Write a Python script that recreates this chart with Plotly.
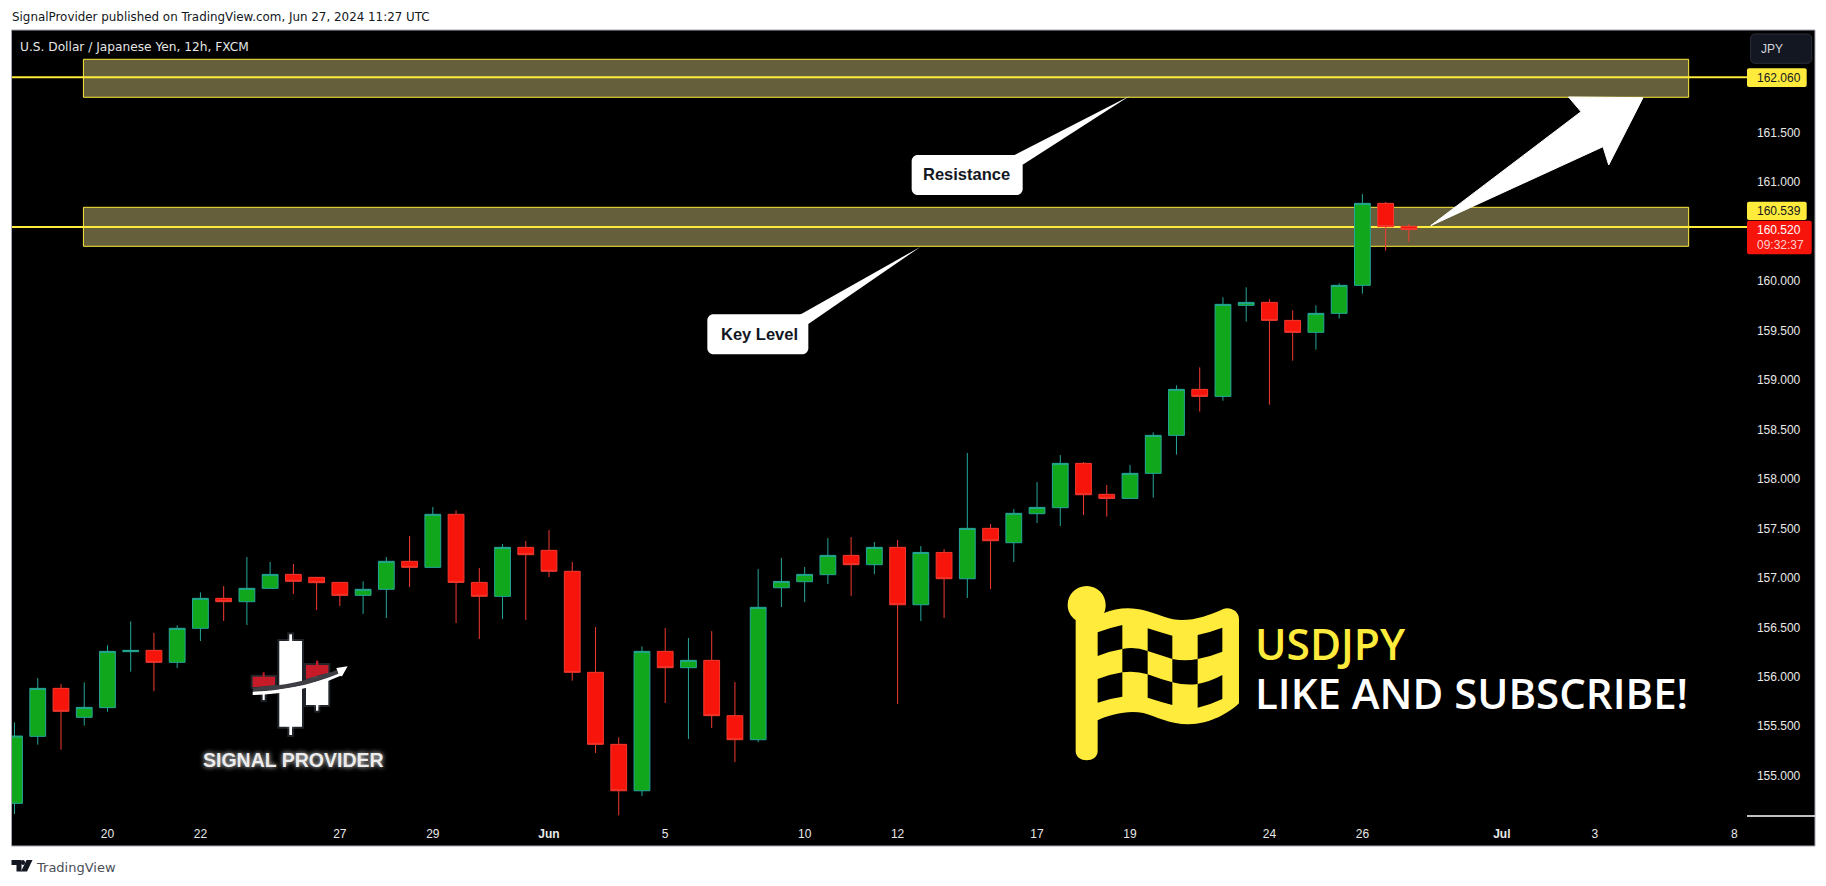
import re
import plotly.graph_objects as go

# ---------- data ----------
bar_index = list(range(61))
opens = [154.721,155.398,155.883,155.590,155.688,156.254,156.267,156.146,156.490,156.793,
         156.759,156.894,157.035,157.005,156.954,156.823,156.884,157.167,157.106,157.642,
         156.954,156.813,157.308,157.278,157.066,156.045,155.317,154.848,156.257,156.092,
         156.166,155.607,155.364,156.900,156.961,157.032,157.227,157.133,157.308,156.728,
         157.257,156.991,157.500,157.355,157.648,157.709,158.157,157.844,157.803,158.056,
         158.440,158.905,158.834,159.754,159.784,159.602,159.481,159.673,159.956,160.785,160.553]
highs = [155.539,155.987,155.927,155.944,156.318,156.560,156.442,156.520,156.853,156.917,
         157.210,157.160,157.140,157.005,156.954,156.965,157.210,157.423,157.716,157.682,
         157.099,157.342,157.372,157.483,157.160,156.503,155.388,156.307,156.493,156.392,
         156.462,155.947,157.089,157.200,157.109,157.402,157.412,157.362,157.382,157.321,
         157.291,158.262,157.544,157.695,157.968,158.241,158.171,157.938,158.140,158.471,
         158.946,159.127,159.835,159.936,159.815,159.703,159.754,159.977,160.879,160.799,160.576]
lows = [154.613,155.314,155.263,155.506,155.647,156.052,155.856,156.089,156.361,156.564,
        156.523,156.890,156.836,156.675,156.715,156.634,156.594,156.907,157.106,156.543,
        156.382,156.584,156.574,157.008,155.961,155.229,154.600,154.795,155.735,155.371,
        155.482,155.138,155.340,156.705,156.755,156.937,156.816,157.038,155.724,156.563,
        156.594,156.796,156.887,157.160,157.554,157.524,157.635,157.618,157.803,157.810,
        158.245,158.680,158.790,159.589,158.750,159.195,159.306,159.620,159.872,160.307,160.398]
closes = [155.401,155.883,155.651,155.691,156.257,156.267,156.146,156.490,156.793,156.759,
          156.894,157.035,156.965,156.951,156.823,156.884,157.167,157.106,157.642,156.954,
          156.813,157.308,157.234,157.066,156.045,155.317,154.848,156.257,156.092,156.166,
          155.607,155.364,156.702,156.964,157.035,157.227,157.133,157.308,156.728,157.257,
          156.991,157.500,157.375,157.652,157.712,158.157,157.840,157.803,158.056,158.440,
          158.905,158.834,159.764,159.784,159.602,159.481,159.673,159.956,160.785,160.549,160.520]

x_tick_pos = [4, 8, 14, 18, 23, 28, 34, 38, 44, 48, 54, 58, 64, 68, 74]
x_tick_text = ["20", "22", "27", "29", "<b>Jun</b>", "5", "10", "12", "17", "19", "24", "26", "<b>Jul</b>", "3", "8"]
y_ticks = [155.0, 155.5, 156.0, 156.5, 157.0, 157.5, 158.0, 158.5, 159.0, 159.5, 160.0, 160.5, 161.0, 161.5, 162.0]

level_prices = [162.060, 160.545]
zone_tops = [162.241, 160.745]
zone_bottoms = [161.857, 160.351]
zone_start, zone_end = 2.965, 72.04
x_range = [-0.108, 74.55]
y_range = [154.593, 162.537]

# ---------- geometry / palette ----------
W, H = 1826, 886
L, R, T, B = 12, 1747, 30, 816
YEL = "#ffeb3b"
FLAG = "#ffeb3b"
ZONE = "#655f3c"


def xp(px):
    return (px - L) / (R - L)


def yp(py):
    return (B - py) / (B - T)


def path(cmds, ox=0.0, oy=0.0, s=1.0):
    """SVG-like path given in pixel space (with optional crop offset/scale)."""
    out, is_x = [], True
    for tok in re.findall(r"[A-Za-z]|-?\d+\.?\d*", cmds):
        if tok.isalpha():
            out.append(tok)
            is_x = True
        else:
            v = float(tok)
            if is_x:
                out.append(f"{xp(ox + v * s):.5f}")
            else:
                out.append(f"{yp(oy + v * s):.5f}")
            is_x = not is_x
    return " ".join(out)


shapes = []


def add_path(cmds, fill, ox=0.0, oy=0.0, s=1.0, line=None, lw=0, layer="above"):
    shapes.append(dict(type="path", xref="paper", yref="paper", path=path(cmds, ox, oy, s),
                       fillcolor=fill, layer=layer,
                       line=dict(color=line or "rgba(0,0,0,0)", width=lw)))


def add_box(x0, y0, x1, y1, fill, line=None, lw=0, layer="above"):
    shapes.append(dict(type="rect", xref="paper", yref="paper", x0=xp(x0), x1=xp(x1), y0=yp(y0), y1=yp(y1),
                       fillcolor=fill, layer=layer, line=dict(color=line or "rgba(0,0,0,0)", width=lw)))


def rounded(x0, y0, x1, y1, r):
    k = r * 0.45
    return (f"M {x0+r} {y0} L {x1-r} {y0} C {x1-k} {y0} {x1} {y0+k} {x1} {y0+r} "
            f"L {x1} {y1-r} C {x1} {y1-k} {x1-k} {y1} {x1-r} {y1} "
            f"L {x0+r} {y1} C {x0+k} {y1} {x0} {y1-k} {x0} {y1-r} "
            f"L {x0} {y0+r} C {x0} {y0+k} {x0+k} {y0} {x0+r} {y0} Z")


# black panel behind chart and axes
add_box(11.5, 30, 1815, 846, "#000000", line="#a3a6af", lw=1, layer="below")

# zones and level lines (under candles)
for top, bot in zip(zone_tops, zone_bottoms):
    shapes.append(dict(type="rect", xref="x", yref="y", x0=zone_start, x1=zone_end, y0=bot, y1=top,
                       fillcolor=ZONE, line=dict(color=YEL, width=1), layer="below"))
for lv in level_prices:
    shapes.append(dict(type="line", xref="x", yref="y", x0=x_range[0], x1=x_range[1], y0=lv, y1=lv,
                       line=dict(color=YEL, width=2), layer="below"))

# big white arrow
add_path("M 1430.7 225.7 L 1581 111.7 L 1568.5 97 L 1643 97.7 L 1608.7 165 L 1603 146.7 Z", "#ffffff",
         line="#ffffff", lw=1)

# callouts
add_path(rounded(52, 253, 355, 373, 18), "#ffffff", 690, 230, 1 / 3)
add_path("M 330 254 L 692 50 L 355 282 Z", "#ffffff", 690, 230, 1 / 3)
add_path(rounded(35, 195, 368, 315, 18), "#ffffff", 900, 90, 1 / 3)
add_path("M 342 196 L 690 17 L 368 224 Z", "#ffffff", 900, 90, 1 / 3)

# flag logo
FX, FY, FS = 1060, 575, 1 / 3
add_path("M 80 33 C 112 33 137 58 137 90 C 137 100 135 108 132 114 C 170 98 215 95 260 108 "
         "C 300 120 330 135 365 135 C 410 135 450 120 490 102 C 510 95 537 108 537 132 L 537 385 "
         "C 510 412 450 448 385 448 C 330 448 290 425 250 414 C 205 405 150 418 113 436 L 113 528 "
         "C 113 565 47 565 47 528 L 47 135 C 32 125 23 108 23 90 C 23 58 48 33 80 33 Z",
         FLAG, FX, FY, FS)
checks = [
    "M 113 172 Q 150 158 187 150 L 187 222 Q 150 228 113 243 Z",
    "M 263 160 Q 300 172 337 182 L 337 252 Q 300 240 263 228 Z",
    "M 413 180 Q 450 172 487 158 L 487 230 Q 450 245 413 252 Z",
    "M 187 222 Q 225 214 263 228 L 263 298 Q 225 286 187 292 Z",
    "M 337 252 Q 375 260 413 252 L 413 327 Q 375 332 337 322 Z",
    "M 113 312 Q 150 298 187 292 L 187 365 Q 150 370 113 383 Z",
    "M 263 298 Q 300 312 337 322 L 337 390 Q 300 380 263 368 Z",
    "M 413 327 Q 450 320 487 300 L 487 372 Q 450 390 413 398 Z",
]
for c in checks:
    add_path(c, "#000000", FX, FY, FS)

# signal provider logo (glow, then solid)
LX, LY, LS = 195, 625, 1 / 3
GLOW = "rgba(200,225,255,0.16)"
white_parts = [
    "M 253 48 L 321 48 L 321 305 L 253 305 Z",
    "M 283 28 L 291 28 L 291 330 L 283 330 Z",
    "M 333 170 L 400 150 L 400 240 L 333 240 Z",
    "M 363 240 L 370 240 L 370 257 L 363 257 Z",
    "M 203 205 L 209 205 L 209 225 L 203 225 Z",
    "M 173 155 L 240 155 L 240 185 L 173 185 Z",
    "M 333 120 L 400 120 L 400 160 L 333 160 Z",
]
for p in white_parts:
    add_path(p, GLOW, LX, LY, LS, line=GLOW, lw=4)
for p in white_parts[:5]:
    add_path(p, "#ffffff", LX, LY, LS)
add_path("M 173 155 L 240 155 L 240 180 L 173 187 Z", "#c51a28", LX, LY, LS)
add_path("M 203 142 L 209 142 L 209 155 L 203 155 Z", "#c51a28", LX, LY, LS)
add_path("M 333 120 L 400 120 L 400 143 L 333 162 Z", "#c51a28", LX, LY, LS)
add_path("M 363 107 L 370 107 L 370 120 L 363 120 Z", "#c51a28", LX, LY, LS)
add_path("M 173 188 C 260 182 340 170 425 135 L 430 147 C 340 185 260 197 173 198 Z", "#3e3e44", LX, LY, LS)
add_path("M 173 200 C 260 196 340 183 430 146 L 424 129 L 458 124 L 441 154 L 435 153 "
         "C 340 195 260 208 173 210 Z", "#ffffff", LX, LY, LS)

# TradingView mark
add_path("M 11.5 860 L 21.5 860 L 21.5 871.5 L 16.5 871.5 L 16.5 865 L 11.5 865 Z", "#131722")
add_path("M 23 860 C 25.7 860 25.7 865 23 865 C 20.3 865 20.3 860 23 860 Z", "#131722")
add_path("M 26.5 860 L 32.5 860 L 27 871.5 L 21 871.5 Z", "#131722")

# price axis pieces
add_box(1747, 816, 1815, 816.01, "#ffffff", line="#ffffff", lw=1)
add_path(rounded(1750.7, 34, 1811.7, 63.3, 4), "#131722", line="#2a2e39", lw=1)
add_path(rounded(1747, 68.3, 1806.7, 87, 2), YEL)
add_path(rounded(1747, 201.7, 1806.7, 220, 2), YEL)
add_path(rounded(1747, 220.7, 1811.7, 254.3, 2), "#f7140a")

annots = []


def text(s, x, y, size, color, anchor="left", family="Liberation Sans", shadow=None, weight=None):
    font = dict(size=size, color=color, family=family)
    if shadow:
        font["shadow"] = shadow
    if weight:
        font["weight"] = weight
    annots.append(dict(text=s, xref="paper", yref="paper", x=xp(x), y=yp(y), xanchor=anchor, yanchor="middle",
                       showarrow=False, borderpad=0, borderwidth=0, font=font))


DJ = "DejaVu Sans"
text("SignalProvider published on TradingView.com, Jun 27, 2024 11:27 UTC", 11.5, 16.5, 11.9, "#131722", family=DJ)
text("U.S. Dollar / Japanese Yen, 12h, FXCM", 20.3, 46.7, 12.2, "#e6e6e6", family=DJ)
text("TradingView", 36.4, 867, 13, "#4a4e58", family=DJ)
text("JPY", 1761, 48.5, 12, "#d1d4dc")
text("162.060", 1757, 77.7, 12, "#131722")
text("160.539", 1757, 210.7, 12, "#131722")
text("160.520", 1757, 229.7, 12, "#ffffff")
text("09:32:37", 1757, 245, 12, "#ffd0cc")
text("<b>Key Level</b>", 759, 334, 16.5, "#131722", anchor="center")
text("<b>Resistance</b>", 966.7, 174, 16.5, "#131722", anchor="center")
text("USDJPY", 1255, 643, 42.5, FLAG, family="Open Sans", weight=600)
text("LIKE AND SUBSCRIBE!", 1255, 692, 42, "#ffffff", family="Open Sans", weight=600)
text("<b>SIGNAL PROVIDER</b>", 293.3, 760.3, 19.5, "#ececec", anchor="center",
     shadow="0 0 5px rgba(255,255,255,0.9)")

fig = go.Figure(go.Candlestick(
    x=bar_index, open=opens, high=highs, low=lows, close=closes,
    increasing=dict(line=dict(color="#26a69a", width=1), fillcolor="#11a71c"),
    decreasing=dict(line=dict(color="#f23a30", width=1), fillcolor="#f7140a"),
    whiskerwidth=0, showlegend=False, hoverinfo="skip",
))
fig.update_layout(
    width=W, height=H, autosize=False,
    margin=dict(l=L, r=W - R, t=T, b=H - B, pad=0),
    paper_bgcolor="#ffffff", plot_bgcolor="#000000",
    boxgap=0.32, boxgroupgap=0, showlegend=False,
    shapes=shapes, annotations=annots,
    xaxis=dict(range=x_range, rangeslider=dict(visible=False), showgrid=False, zeroline=False,
               showline=False, tickmode="array", tickvals=x_tick_pos, ticktext=x_tick_text,
               ticks="outside", ticklen=7, tickcolor="rgba(0,0,0,0)",
               tickfont=dict(family="Liberation Sans", size=12, color="#e8e8e8")),
    yaxis=dict(range=y_range, side="right", showgrid=False, zeroline=False, showline=False,
               tickmode="array", tickvals=y_ticks, tickformat=".3f",
               ticks="outside", ticklen=6.5, tickcolor="rgba(0,0,0,0)",
               tickfont=dict(family="Liberation Sans", size=12, color="#e8e8e8")),
)
fig.write_html("out.html", config=dict(displayModeBar=False),
               post_script="document.body.style.margin='0';document.body.style.overflow='hidden';")
